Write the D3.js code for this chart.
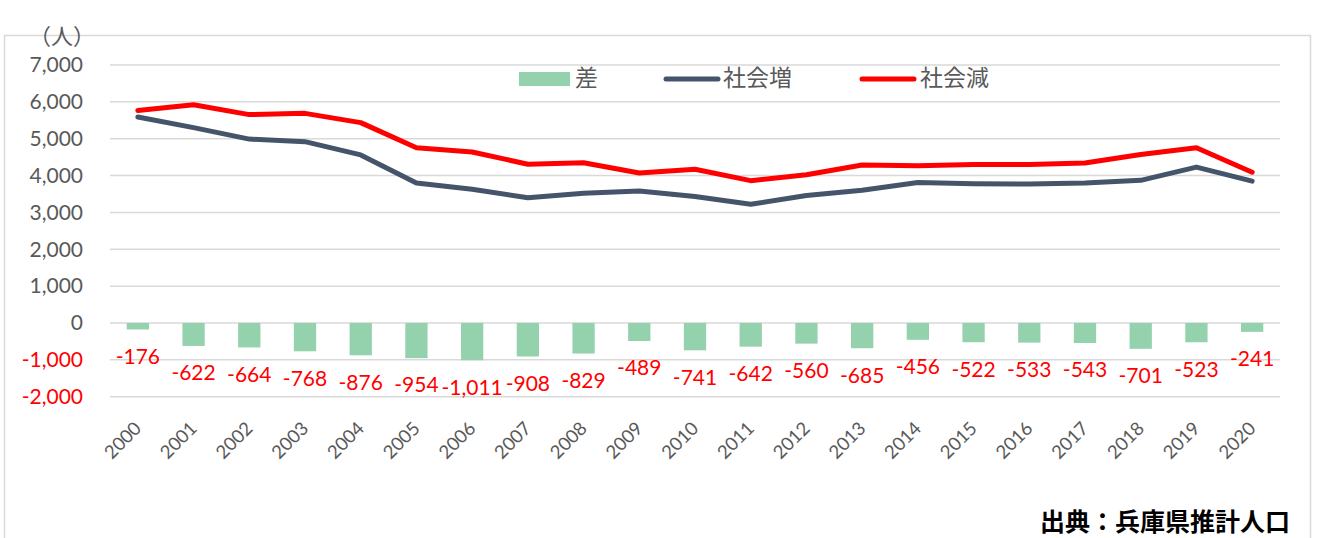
<!DOCTYPE html>
<html><head><meta charset="utf-8">
<script src="https://cdn.jsdelivr.net/npm/d3@7"></script>
<style>
html,body{margin:0;padding:0;background:#fff;}
svg{display:block;}
</style></head>
<body>
<svg id="chart" width="1330" height="538"></svg>
<script>
const years = ["2000","2001","2002","2003","2004","2005","2006","2007","2008","2009","2010","2011","2012","2013","2014","2015","2016","2017","2018","2019","2020"];
const diffValues = [-176,-622,-664,-768,-876,-954,-1011,-908,-829,-489,-741,-642,-560,-685,-456,-522,-533,-543,-701,-523,-241];
const socialIncrease = [5590,5300,4990,4920,4560,3800,3630,3400,3520,3580,3430,3220,3460,3600,3810,3780,3770,3800,3870,4230,3850];
const socialDecrease = [5766,5922,5654,5688,5436,4754,4641,4308,4349,4069,4171,3862,4020,4285,4266,4302,4303,4343,4571,4753,4091];
const yTicks = [-2000,-1000,0,1000,2000,3000,4000,5000,6000,7000];
const seriesNames = ["差","社会増","社会減"];
const unitLabel = "（人）";
const sourceLabel = "出典：兵庫県推計人口";

(function(){
const colors = {bar:"#94D1AD", inc:"#44546A", dec:"#FF0000", grid:"#D9D9D9", text:"#595959", neg:"#FF0000"};
const latin = "Lato, 'Noto Sans', sans-serif";
const cjk = "'Noto Sans CJK JP', 'Noto Sans', sans-serif";

const loc = d3.formatLocale({decimal:".", thousands:",", grouping:[3], currency:["",""], minus:"-"});
const fmt = loc.format(",");

const svg = d3.select("#chart");
const pLeft = 110, pRight = 1280, pTop = 65, pBottom = 396.7;

const x = d3.scaleBand().domain(years).range([pLeft, pRight]).paddingInner(0).paddingOuter(0);
const y = d3.scaleLinear().domain([-2000, 7000]).range([pBottom, pTop]);

// chart border
svg.append("rect").attr("x",4.5).attr("y",35.5).attr("width",1306).attr("height",620)
  .attr("fill","none").attr("stroke","#D9D9D9").attr("stroke-width",1.5);

// gridlines
svg.append("g").selectAll("line").data(yTicks).join("line")
  .attr("x1",pLeft).attr("x2",pRight)
  .attr("y1",d=>y(d)).attr("y2",d=>y(d))
  .attr("stroke",colors.grid).attr("stroke-width",1.5);

// y axis labels
const yAxis = d3.axisLeft(y).tickValues(yTicks).tickFormat(fmt).tickSize(0).tickPadding(0);
const gy = svg.append("g").attr("transform","translate(83,0)").call(yAxis);
gy.select(".domain").remove();
gy.selectAll("text").attr("font-family",latin).attr("font-size",21)
  .attr("fill",d=>d<0?colors.neg:colors.text);

// unit label
svg.append("text").attr("x",95).attr("y",36).attr("dy","0.35em").attr("text-anchor","end")
  .attr("font-family",cjk).attr("font-size",22).attr("fill",colors.text).text(unitLabel);

// x axis labels
const xAxis = d3.axisBottom(x).tickSize(0).tickPadding(0);
const gx = svg.append("g").call(xAxis);
gx.select(".domain").remove();
gx.selectAll(".tick").attr("transform",d=>`translate(${x(d)+x.bandwidth()/2},425)`);
gx.selectAll("text").attr("y",0).attr("x",0).attr("dy","0.35em")
  .attr("transform","rotate(-45)").attr("text-anchor","end")
  .attr("font-family",latin).attr("font-size",18.5).attr("fill",colors.text);

// bars
const bw = x.bandwidth()*0.4;
svg.append("g").selectAll("rect").data(years).join("rect")
  .attr("x",(d)=>x(d)+x.bandwidth()/2-bw/2)
  .attr("width",bw)
  .attr("y",(d,i)=>y(Math.max(0,diffValues[i])))
  .attr("height",(d,i)=>Math.abs(y(diffValues[i])-y(0)))
  .attr("fill",colors.bar);

// lines
const line = d3.line().x((d,i)=>x(years[i])+x.bandwidth()/2).y(d=>y(d));
svg.append("path").datum(socialIncrease).attr("d",line).attr("fill","none")
  .attr("stroke",colors.inc).attr("stroke-width",5).attr("stroke-linejoin","round").attr("stroke-linecap","round");
svg.append("path").datum(socialDecrease).attr("d",line).attr("fill","none")
  .attr("stroke",colors.dec).attr("stroke-width",5).attr("stroke-linejoin","round").attr("stroke-linecap","round");

// data labels
svg.append("g").selectAll("text").data(years).join("text")
  .attr("x",d=>x(d)+x.bandwidth()/2)
  .attr("y",(d,i)=>y(diffValues[i])+27)
  .attr("dy","0.35em").attr("text-anchor","middle")
  .attr("font-family",latin).attr("font-size",21).attr("fill",colors.neg)
  .text((d,i)=>fmt(diffValues[i]));

// legend
const lg = svg.append("g");
lg.append("rect").attr("x",519).attr("y",72).attr("width",51).attr("height",14).attr("fill",colors.bar);
lg.append("text").attr("x",575).attr("y",78).attr("dy","0.35em").attr("font-family",cjk).attr("font-size",23).attr("fill",colors.text).text(seriesNames[0]);
lg.append("line").attr("x1",666).attr("x2",718).attr("y1",79).attr("y2",79).attr("stroke",colors.inc).attr("stroke-width",5).attr("stroke-linecap","round");
lg.append("text").attr("x",723).attr("y",78).attr("dy","0.35em").attr("font-family",cjk).attr("font-size",23).attr("fill",colors.text).text(seriesNames[1]);
lg.append("line").attr("x1",862).attr("x2",914).attr("y1",79).attr("y2",79).attr("stroke",colors.dec).attr("stroke-width",5).attr("stroke-linecap","round");
lg.append("text").attr("x",920).attr("y",78).attr("dy","0.35em").attr("font-family",cjk).attr("font-size",23).attr("fill",colors.text).text(seriesNames[2]);

// source
svg.append("text").attr("x",1290).attr("y",531).attr("text-anchor","end")
  .attr("font-family",cjk).attr("font-size",25).attr("font-weight","bold").attr("fill","#000").text(sourceLabel);
})();
</script>
</body></html>
